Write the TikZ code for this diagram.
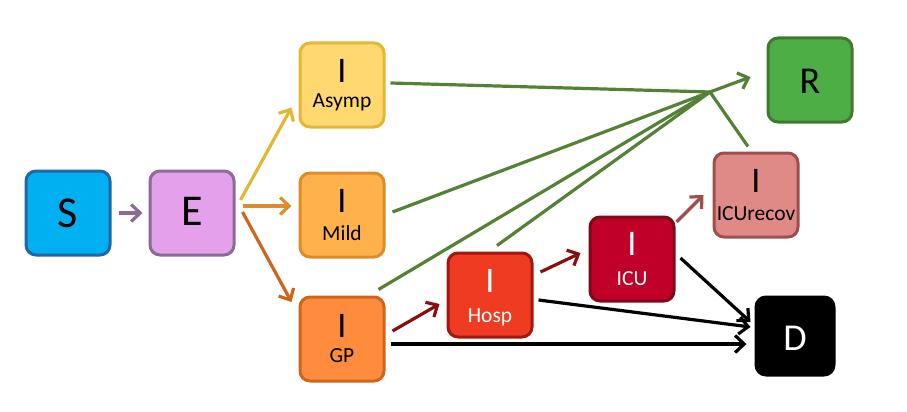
\documentclass[tikz,border=0pt]{standalone}
\usepackage{fontspec}
\setmainfont{Carlito}
\usetikzlibrary{arrows.meta,calc}
\definecolor{cS}{HTML}{00B0F0}\definecolor{bS}{HTML}{2166A6}
\definecolor{cE}{HTML}{E4A0EA}\definecolor{bE}{HTML}{8C6A96}
\definecolor{cA}{HTML}{FFD970}\definecolor{bA}{HTML}{E3B734}
\definecolor{cM}{HTML}{FFB14C}\definecolor{bM}{HTML}{DE8C28}
\definecolor{cG}{HTML}{FF8C3C}\definecolor{bG}{HTML}{CF651C}
\definecolor{cH}{HTML}{EE3B22}\definecolor{bH}{HTML}{A3180E}
\definecolor{cU}{HTML}{C00028}\definecolor{bU}{HTML}{7E0A18}
\definecolor{cV}{HTML}{E08A88}\definecolor{bV}{HTML}{9E4E4C}
\definecolor{cR}{HTML}{4CAE44}\definecolor{bR}{HTML}{3F7A2E}
\definecolor{gl}{HTML}{548235}
\definecolor{dr}{HTML}{8B0E0E}
\tikzset{
  box/.style={draw, rounded corners=10pt, line width=3pt, minimum width=84pt, minimum height=84pt, inner sep=0pt},
  big/.style={anchor=base, inner sep=0pt, font=\fontsize{44}{44}\selectfont},
  bigI/.style={anchor=base, inner sep=0pt, font=\fontsize{36}{36}\selectfont},
  sub/.style={anchor=base, inner sep=0pt, font=\fontsize{21.5}{21.5}\selectfont},
  arr/.style={line width=3.2pt, -{Straight Barb[length=9pt,width=17pt,line width=3.2pt]}},
  ln/.style={line width=3.2pt},
}
\begin{document}
\begin{tikzpicture}[x=1pt,y=-1pt]
\useasboundingbox (0,0) rectangle (907,412);
% boxes
\node[box, fill=cS, draw=bS] (S) at (68,213) {};
\node[box, fill=cE, draw=bE] (E) at (192,213) {};
\node[box, fill=cA, draw=bA] (A) at (342,85) {};
\node[box, fill=cM, draw=bM] (M) at (342,215) {};
\node[box, fill=cG, draw=bG] (G) at (342,339) {};
\node[box, fill=cH, draw=bH] (H) at (490,295) {};
\node[box, fill=cU, draw=bU] (U) at (632,259) {};
\node[box, fill=cV, draw=bV] (V) at (756,195) {};
\node[box, fill=cR, draw=bR] (R) at (810,80) {};
\node[box, fill=black, draw=black, minimum width=78pt, minimum height=78pt] (D) at (795,336) {};
% texts
\node[big] (tS) at ($(S.center)+(0,14)$) {S};
\node[big] (tE) at ($(E.center)+(0,12)$) {E};
\node[big, font=\fontsize{38}{38}\selectfont] (tR) at ($(R.center)+(0,13)$) {R};
\node[big, font=\fontsize{38}{38}\selectfont, text=white] (tD) at ($(D.center)+(0,14)$) {D};
\node[bigI] (iA) at ($(A.center)+(0,-3)$) {I};
\node[sub] (lA) at ($(A.center)+(0,22)$) {Asymp};
\node[bigI] (iM) at ($(M.center)+(0,-3)$) {I};
\node[sub] (lM) at ($(M.center)+(0,25)$) {Mild};
\node[bigI] (iG) at ($(G.center)+(0,-2)$) {I};
\node[sub] (lG) at ($(G.center)+(0,23)$) {GP};
\node[bigI, text=white] (iH) at ($(H.center)+(0,-3)$) {I};
\node[sub, text=white] (lH) at ($(H.center)+(0,27)$) {Hosp};
\node[bigI, text=white] (iU) at ($(U.center)+(0,-4)$) {I};
\node[sub, text=white] (lU) at ($(U.center)+(0,26)$) {ICU};
\node[bigI] (iV) at ($(V.center)+(0,-3)$) {I};
\node[sub] (lV) at ($(V.center)+(0,25)$) {ICUrecov};
% junction
\coordinate (J) at (710,92);
% arrows
\draw[arr, draw=bE] ($(S.east)+(7,0)$) -- ($(E.west)+(-6,0)$);
\draw[arr, draw=bA] ($(E.east)+(5,-13)$) -- ($(A.south west)+(-7,-21)$);
\draw[arr, draw=bM] ($(E.east)+(7,-7)$) -- ($(M.west)+(-7,-9)$);
\draw[arr, draw=bG] ($(E.east)+(7,-1)$) -- ($(G.west)+(-7,-37)$);
\draw[arr, draw=dr] ($(G.east)+(7,-8)$) -- ($(H.west)+(-7,9)$);
\draw[arr, draw=dr] ($(H.east)+(7,-23)$) -- ($(U.west)+(-8,-6)$);
\draw[arr, draw=bV] ($(U.east)+(1,-37)$) -- ($(V.west)+(-9,0)$);
% green
\draw[ln, draw=gl] ($(A.east)+(5,-2)$) -- (J);
\draw[ln, draw=gl] ($(M.east)+(7,-3)$) -- (J);
\draw[ln, draw=gl] ($(G.north east)+(-7,-6)$) -- (J);
\draw[ln, draw=gl] ($(H.north)+(7,-6)$) -- (J);
\draw[ln, draw=gl] ($(V.north)+(-8,-5)$) -- (J);
\draw[arr, draw=gl] (J) -- ($(R.west)+(-16,-3)$);
% to D
\draw[arr, draw=black] ($(U.east)+(5,-1)$) -- ($(D.west)+(-4,-14)$);
\draw[arr, draw=black] ($(H.east)+(5,5)$) -- ($(D.west)+(-4,-9)$);
\draw[arr, draw=black] ($(G.east)+(5,5)$) -- ($(D.west)+(-8,8)$);
\end{tikzpicture}
\end{document}
